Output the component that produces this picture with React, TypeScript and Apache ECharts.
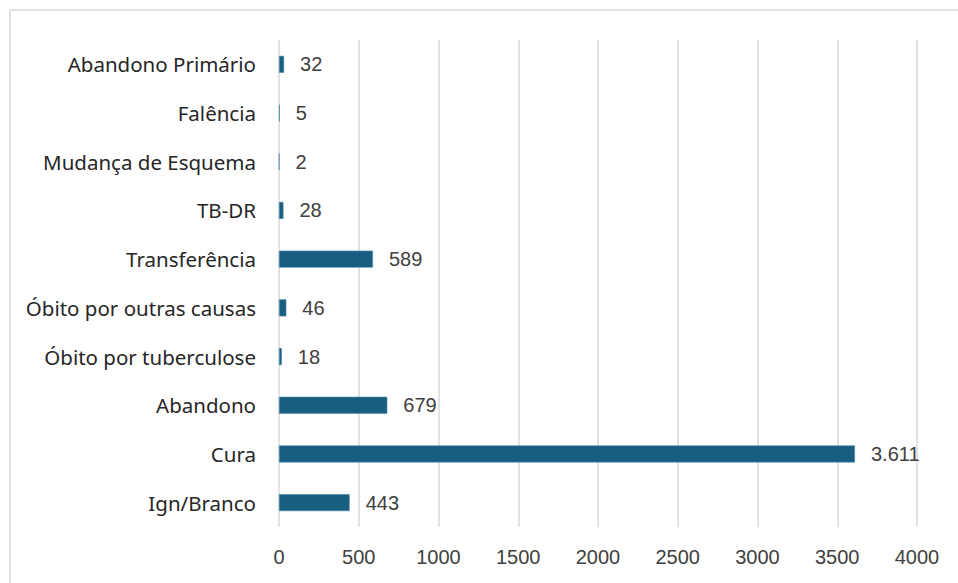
import React, { useEffect, useRef } from "react";
import * as echarts from "echarts";

// Desfechos de tratamento (de baixo para cima no eixo)
const categories = [
  "Ign/Branco",
  "Cura",
  "Abandono",
  "Óbito por tuberculose",
  "Óbito por outras causas",
  "Transferência",
  "TB-DR",
  "Mudança de Esquema",
  "Falência",
  "Abandono Primário",
];
const casos = [443, 3611, 679, 18, 46, 589, 28, 2, 5, 32];
const xTicks = { min: 0, max: 4000, interval: 500 };

const fmt = (v: number) => v.toLocaleString("pt-BR");

export default function App() {
  const ref = useRef<HTMLDivElement>(null);

  useEffect(() => {
    if (!ref.current) return;
    const chart = echarts.init(ref.current, undefined, { renderer: "svg" });
    chart.setOption({
      animation: false,
      backgroundColor: "#ffffff",
      graphic: [
        {
          type: "rect",
          shape: { x: 10, y: 10, width: 960, height: 600 },
          style: { fill: "none", stroke: "#d9d9d9", lineWidth: 1.5 },
          silent: true,
        },
      ],
      grid: { left: 279, right: 41, top: 40, bottom: 56, containLabel: false },
      xAxis: {
        type: "value",
        min: xTicks.min,
        max: xTicks.max,
        interval: xTicks.interval,
        axisLine: { show: false },
        axisTick: { show: false },
        splitLine: { show: true, lineStyle: { color: "#d9d9d9", width: 1.5 } },
        axisLabel: {
          color: "#404040",
          fontSize: 20,
          fontFamily: "Liberation Sans, Arial, sans-serif",
          margin: 20,
          formatter: (v: number) => String(v),
        },
      },
      yAxis: {
        type: "category",
        data: categories,
        axisLine: { show: false },
        axisTick: { show: false },
        axisLabel: {
          color: "#262626",
          fontSize: 20.5,
          fontFamily: "Noto Sans, sans-serif",
          margin: 23,
        },
      },
      series: [
        {
          type: "bar",
          data: casos,
          barWidth: 17,
          itemStyle: { color: "#175e80", borderColor: "#4f8bab", borderWidth: 0.6 },
          label: {
            show: true,
            position: "right",
            distance: 16,
            color: "#404040",
            fontSize: 20,
            fontFamily: "Liberation Sans, Arial, sans-serif",
            formatter: (p: any) => fmt(p.value),
          },
        },
      ],
    });
    return () => chart.dispose();
  }, []);

  return (
    <div
      ref={ref}
      style={{ position: "fixed", left: 0, top: 0, width: 958, height: 583 }}
    />
  );
}
